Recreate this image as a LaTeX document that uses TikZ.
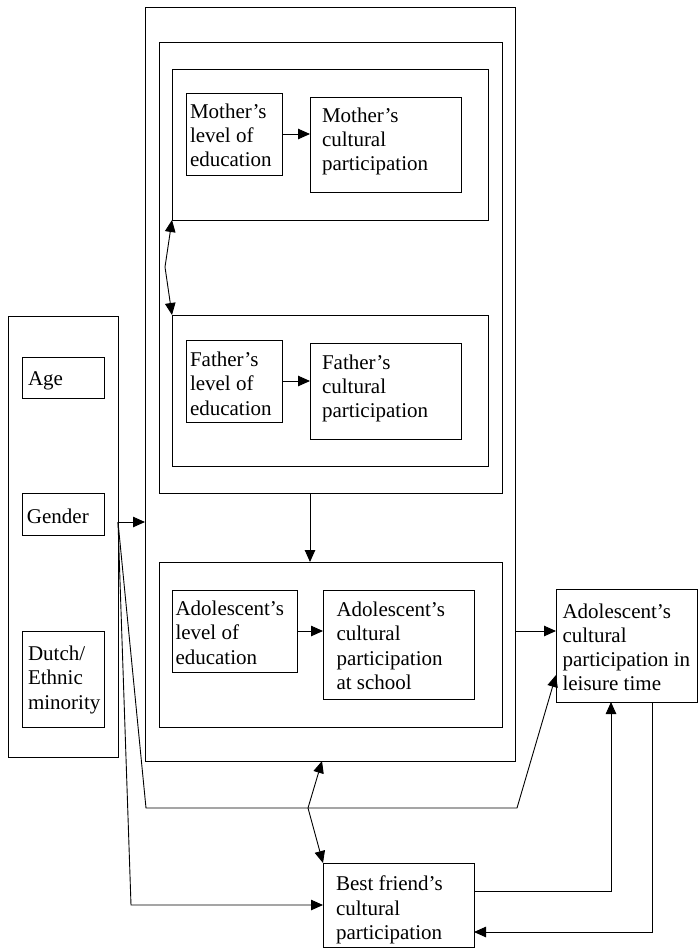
\documentclass[tikz,border=0pt]{standalone}
\usepackage{fontspec}
\setmainfont{Liberation Serif}
\usetikzlibrary{arrows.meta}
\begin{document}
\begin{tikzpicture}[x=1pt,y=-1pt,
  bx/.style={draw, line width=0.9pt, inner sep=0pt, outer sep=0pt, anchor=north west},
  txt/.style={anchor=north west, align=left, inner sep=0pt, outer sep=0pt, font=\fontsize{21}{24.3}\selectfont},
  arr/.style={line width=0.9pt, -{Triangle[length=12pt,width=10.5pt]}},
  dbl/.style={line width=0.9pt, {Triangle[length=12pt,width=10.5pt]}-{Triangle[length=12pt,width=10.5pt]}}]
\path[fill=white] (0,0) rectangle (699,948);
\useasboundingbox (0,0) rectangle (699,948);
% left box
\node[bx, minimum width=110pt, minimum height=441pt] (demo) at (8,316) {};
\node[bx, minimum width=82pt, minimum height=41pt] (age) at (22,357) {};
\node[bx, minimum width=82pt, minimum height=42pt] (gen) at (22,493) {};
\node[bx, minimum width=82pt, minimum height=96pt] (dut) at (22,631) {};
\node[txt] (tage) at (28,372) {Age};
\node[txt] (tgen) at (27,509) {Gender};
\node[txt] (tdut) at (28,646) {Dutch/\\Ethnic\\minority};
% outer and parents
\node[bx, minimum width=370pt, minimum height=754pt] (outer) at (145,7) {};
\node[bx, minimum width=343pt, minimum height=451pt] (par) at (159,42) {};
\node[bx, minimum width=316pt, minimum height=151pt] (mbox) at (172,69) {};
\node[bx, minimum width=96pt, minimum height=82pt] (mlev) at (186,93) {};
\node[bx, minimum width=151pt, minimum height=95pt] (mcul) at (310,97) {};
\node[txt] (tmlev) at (190,103.5) {Mother’s\\level of\\education};
\node[txt] (tmcul) at (322,107.5) {Mother’s\\cultural\\participation};
\node[bx, minimum width=316pt, minimum height=151pt] (fbox) at (172,315) {};
\node[bx, minimum width=96pt, minimum height=82pt] (flev) at (186,340) {};
\node[bx, minimum width=151pt, minimum height=96pt] (fcul) at (310,343) {};
\node[txt] (tflev) at (190,352) {Father’s\\level of\\education};
\node[txt] (tfcul) at (322,354.5) {Father’s\\cultural\\participation};
% adolescent
\node[bx, minimum width=343pt, minimum height=165pt] (ado) at (159,562) {};
\node[bx, minimum width=125pt, minimum height=82pt] (alev) at (172,590) {};
\node[bx, minimum width=151pt, minimum height=109pt] (asch) at (323,590) {};
\node[txt] (talev) at (175.5,601) {Adolescent’s\\level of\\education};
\node[txt] (tasch) at (336.5,602) {Adolescent’s\\cultural\\participation\\at school};
% leisure and best friend
\node[bx, minimum width=141pt, minimum height=113pt] (leis) at (556,589) {};
\node[txt] (tleis) at (562.5,603.5) {Adolescent’s\\cultural\\participation in\\leisure time};
\node[bx, minimum width=151pt, minimum height=84pt] (bf) at (323,863) {};
\node[txt] (tbf) at (336,876) {Best friend’s\\cultural\\participation};
% connectors inside
\draw[arr] (mlev.east) -- (mlev.east -| mcul.west);
\draw[arr] (flev.east) -- (flev.east -| fcul.west);
\draw[arr] (alev.east) -- (alev.east -| asch.west);
\coordinate (k5) at (165,267);
\draw[dbl] (mbox.south west) -- (k5) -- (fbox.north west);
\draw[arr] ([xshift=-20.5pt]par.south) -- ([xshift=-20.5pt]ado.north);
% from demographics
\coordinate (gsrc) at ([yshift=14.5pt]demo.east);
\draw[arr] (gsrc) -- (gsrc -| outer.west);
\coordinate (k1) at (146,808);
\coordinate (k2) at (517,808);
\draw[arr] (gsrc) -- (k1) -- (k2) -- ([yshift=-29.5pt]leis.west);
\coordinate (k3) at (131,905);
\draw[arr] (gsrc) -- (k3) -- (k3 -| bf.west);
% outer <-> best friend
\coordinate (k4) at (308,808);
\draw[dbl] ([xshift=-8pt]outer.south) -- (k4) -- (bf.north west);
% outer -> leisure
\coordinate (lin) at ([yshift=14.5pt]leis.west);
\draw[arr] (lin -| outer.east) -- (lin);
% best friend <-> leisure
\coordinate (bo) at ([yshift=14pt]bf.east);
\coordinate (lb) at ([xshift=-15.5pt]leis.south);
\draw[arr] (bo) -- (bo -| lb) -- (lb);
\coordinate (lo) at ([xshift=25.5pt]leis.south);
\coordinate (bi) at ([yshift=-27pt]bf.east);
\draw[arr] (lo) -- (lo |- bi) -- (bi);
\end{tikzpicture}
\end{document}
